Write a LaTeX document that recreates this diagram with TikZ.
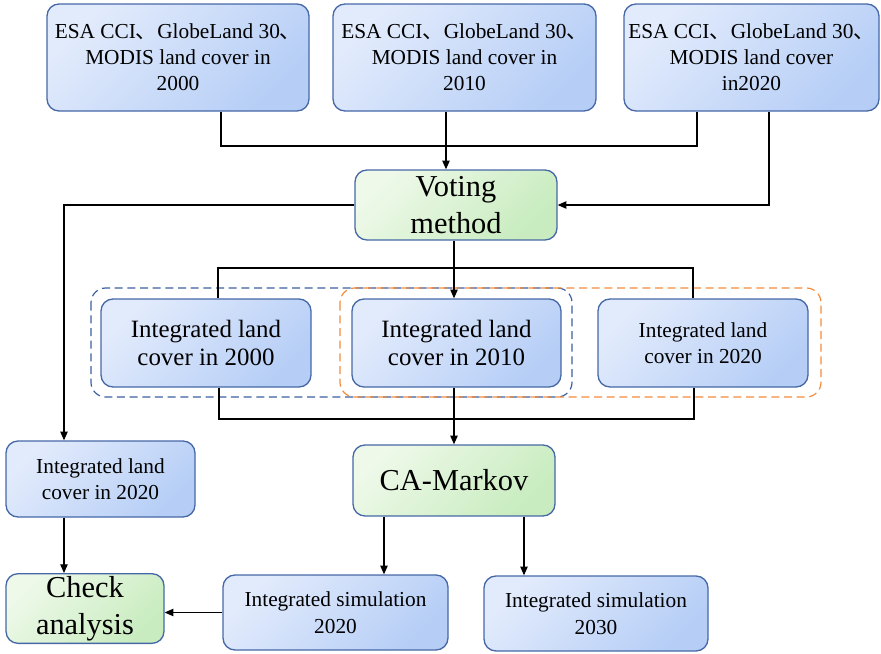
\documentclass[tikz,border=0pt]{standalone}
\usepackage{fontspec}
\setmainfont{Liberation Serif}
\newfontfamily\cjk{Noto Sans CJK SC}
\usetikzlibrary{arrows.meta,calc}
\definecolor{bord}{RGB}{70,104,166}
\definecolor{blueA}{RGB}{226,235,252}
\definecolor{blueB}{RGB}{182,206,246}
\definecolor{greenA}{RGB}{238,249,233}
\definecolor{greenB}{RGB}{200,236,191}
\definecolor{grpblue}{RGB}{60,95,160}
\definecolor{grporange}{RGB}{242,140,60}
\tikzset{
  bluebox/.style={draw=bord, line width=1pt, rounded corners=9pt, align=center,
    top color=blueA, bottom color=blueB, shading angle=45, inner sep=2pt},
  greenbox/.style={draw=bord, line width=1pt, rounded corners=9pt, align=center,
    top color=greenA, bottom color=greenB, shading angle=45, inner sep=2pt},
  ftop/.style={font=\fontsize{16}{19.5}\selectfont},
  fmid/.style={font=\fontsize{18.7}{21}\selectfont},
  fsmall/.style={font=\fontsize{16}{20}\selectfont},
  fbig/.style={font=\fontsize{22.8}{27.5}\selectfont},
  conn/.style={line width=0.9pt, black},
  arr/.style={conn, -{Triangle[length=6.5pt,width=5.5pt]}},
  grp/.style={line width=0.9pt, dash pattern=on 6pt off 3.5pt, rounded corners=11pt}
}
\begin{document}
\begin{tikzpicture}[x=0.75pt,y=-0.75pt]
\useasboundingbox (0,0) rectangle (881,653);

% top row
\node[bluebox, ftop, minimum width=196.5pt, minimum height=80.25pt] (A1) at (178,57.5)
  {ESA CCI{\cjk 、}GlobeLand 30{\cjk 、}\\MODIS land cover in\\2000};
\node[bluebox, ftop, minimum width=197.25pt, minimum height=80.25pt] (A2) at (464.5,57.5)
  {ESA CCI{\cjk 、}GlobeLand 30{\cjk 、}\\MODIS land cover in\\2010};
\node[bluebox, ftop, minimum width=191.25pt, minimum height=80.25pt] (A3) at (751.5,57.5)
  {ESA CCI{\cjk 、}GlobeLand 30{\cjk 、}\\MODIS land cover\\in2020};

% voting
\node[greenbox, fbig, minimum width=151.5pt, minimum height=52.5pt] (V) at (456,205)
  {Voting\\method};

% group frames
\draw[grp, draw=grpblue] (91,288) rectangle (572,397);
\draw[grp, draw=grporange] (340,288) rectangle (821,397);

% integrated row
\node[bluebox, fmid, minimum width=157.5pt, minimum height=66pt] (I0) at (206,343)
  {Integrated land\\cover in 2000};
\node[bluebox, fmid, minimum width=156.75pt, minimum height=66pt] (I1) at (456.5,343)
  {Integrated land\\cover in 2010};
\node[bluebox, ftop, minimum width=157.5pt, minimum height=66pt] (I2) at (703,343)
  {Integrated land\\cover in 2020};

% left column
\node[bluebox, ftop, minimum width=141.75pt, minimum height=57pt] (B) at (100.5,479)
  {Integrated land\\cover in 2020};
\node[greenbox, fbig, minimum width=118.5pt, minimum height=51.75pt] (C) at (85,608.5)
  {\raisebox{-2pt}{Check}\\\raisebox{-2pt}{analysis}};

% CA-Markov
\node[greenbox, fbig, minimum width=151.5pt, minimum height=53.25pt] (M) at (454,480.5)
  {CA-Markov};

% simulations
\node[bluebox, fsmall, minimum width=168.75pt, minimum height=56.25pt] (S0) at (335.5,612.5)
  {Integrated simulation\\2020};
\node[bluebox, fsmall, minimum width=168pt, minimum height=56.25pt] (S1) at (596,613.5)
  {Integrated simulation\\2030};

% helper coordinates
\coordinate (j1) at (446,146);
\coordinate (t1) at (454,268);
\coordinate (t2) at (454,419);
\coordinate (p) at (64,0);
\coordinate (q1) at (384,0);
\coordinate (q2) at (524,0);

% top bracket
\draw[conn] ($(A1.south)+(43,0)$) |- (j1) -| ($(A3.south)+(-54.5,0)$);
\draw[arr] (A2.south -| j1) -- (V.north -| j1);
\draw[arr] ($(A3.south)+(17.5,0)$) |- (V.east);

% voting to left
\draw[arr] (V.west) -| (B.north -| p);

% voting down
\draw[conn] ($(I0.north)+(12,0)$) |- (t1) -| ($(I2.north)+(-10,0)$);
\draw[arr] (V.south -| t1) -- (I1.north -| t1);

% bottom bracket
\draw[conn] ($(I0.south)+(13,0)$) |- (t2) -| ($(I2.south)+(-9,0)$);
\draw[arr] (I1.south -| M.north) -- (M.north);

% lower arrows
\draw[arr] (B.south -| p) -- (C.north -| p);
\draw[arr] (M.south -| q1) -- (S0.north -| q1);
\draw[arr] (M.south -| q2) -- (S1.north -| q2);
\draw[arr] (S0.west) -- (S0.west -| C.east);
\end{tikzpicture}
\end{document}
